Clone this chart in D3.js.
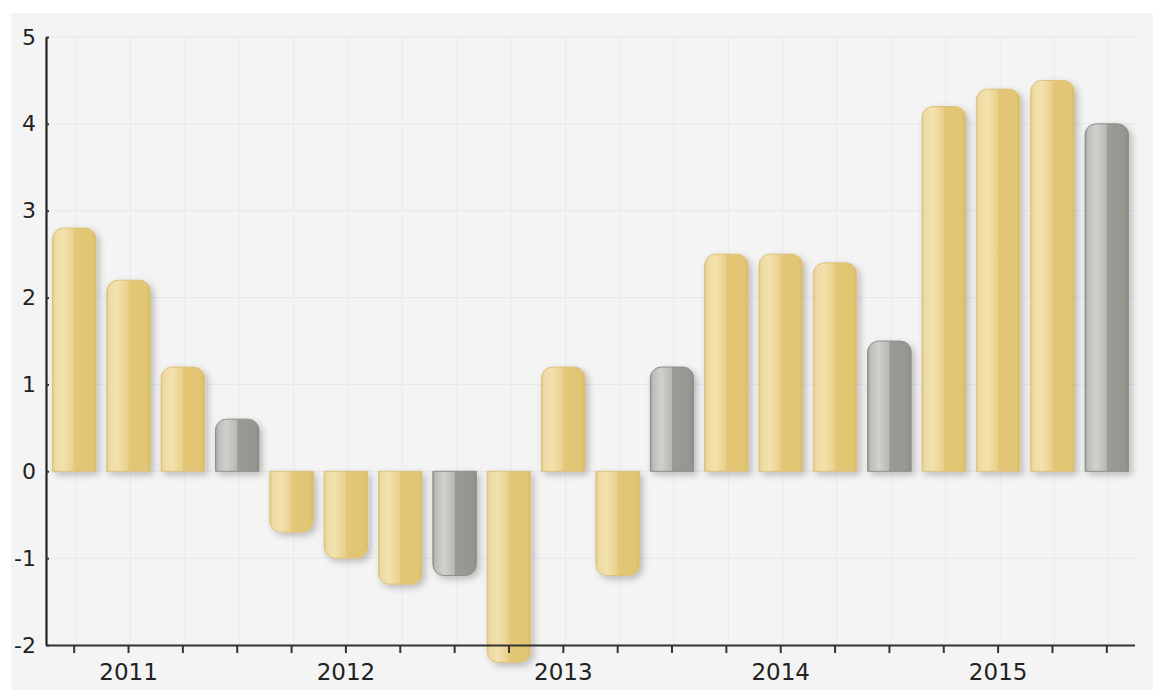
<!DOCTYPE html>
<html>
<head>
<meta charset="utf-8">
<script src="https://cdn.jsdelivr.net/npm/d3@7"></script>
<style>
  html, body { margin: 0; padding: 0; background: #ffffff; }
  svg { display: block; }
  text { font-family: "DejaVu Sans", Verdana, sans-serif; fill: #222; }
</style>
</head>
<body>
<svg id="chart" width="1159" height="698"></svg>
<script>
// Quarterly values, 2011–2015
const quarters = [
  "2011 Q1", "2011 Q2", "2011 Q3", "2011 Q4",
  "2012 Q1", "2012 Q2", "2012 Q3", "2012 Q4",
  "2013 Q1", "2013 Q2", "2013 Q3", "2013 Q4",
  "2014 Q1", "2014 Q2", "2014 Q3", "2014 Q4",
  "2015 Q1", "2015 Q2", "2015 Q3", "2015 Q4"
];
const values = [
  2.8, 2.2, 1.2, 0.6,
  -0.7, -1.0, -1.3, -1.2,
  -2.2, 1.2, -1.2, 1.2,
  2.5, 2.5, 2.4, 1.5,
  4.2, 4.4, 4.5, 4.0
];
// Fourth quarter of each year is shown in gray
const fourthQuarter = [
  false, false, false, true,
  false, false, false, true,
  false, false, false, true,
  false, false, false, true,
  false, false, false, true
];
// Year labels sit under the second quarter of each year
const xTickLabels = [
  "", "2011", "", "",
  "", "2012", "", "",
  "", "2013", "", "",
  "", "2014", "", "",
  "", "2015", "", ""
];
const yTicks = [-2, -1, 0, 1, 2, 3, 4, 5];

const svg = d3.select("#chart");
const plot = { left: 46, right: 1135, top: 37, bottom: 645 };

// panel background
svg.append("rect")
  .attr("x", 11).attr("y", 13)
  .attr("width", 1142).attr("height", 677)
  .attr("fill", "#f4f4f4");

const x = d3.scaleBand()
  .domain(quarters)
  .range([plot.left + 1, plot.right - 1])
  .paddingInner(0.2)
  .paddingOuter(0.1);

const y = d3.scaleLinear()
  .domain([-2, 5])
  .range([plot.bottom, plot.top]);

const defs = svg.append("defs");

function barGradient(id, stops) {
  const g = defs.append("linearGradient")
    .attr("id", id)
    .attr("x1", "0%").attr("x2", "100%")
    .attr("y1", "0%").attr("y2", "0%");
  stops.forEach(([o, c]) => g.append("stop").attr("offset", o).attr("stop-color", c));
}
barGradient("goldFill", [
  ["0%", "#e0c883"], ["6%", "#eedaa3"], ["25%", "#f3e2ae"],
  ["49%", "#e9d08b"], ["51%", "#e3c776"], ["92%", "#e2c572"], ["100%", "#d6ba6a"]
]);
barGradient("grayFill", [
  ["0%", "#9a9a97"], ["6%", "#bcbcb9"], ["25%", "#d0d0cd"],
  ["49%", "#b8b8b4"], ["51%", "#9b9b96"], ["92%", "#969691"], ["100%", "#8b8b86"]
]);

const shadow = defs.append("filter")
  .attr("id", "barShadow")
  .attr("x", "-30%").attr("y", "-30%")
  .attr("width", "160%").attr("height", "160%");
shadow.append("feDropShadow")
  .attr("dx", 3).attr("dy", 3)
  .attr("stdDeviation", 3.5)
  .attr("flood-color", "#000")
  .attr("flood-opacity", 0.24);

// grid lines
const grid = svg.append("g").attr("class", "grid");
grid.selectAll("line.h")
  .data(yTicks)
  .join("line")
  .attr("class", "h")
  .attr("x1", plot.left).attr("x2", plot.right)
  .attr("y1", d => y(d)).attr("y2", d => y(d))
  .attr("stroke", "#e6e8ec").attr("stroke-width", 1);
grid.selectAll("line.v")
  .data(quarters)
  .join("line")
  .attr("class", "v")
  .attr("x1", d => x(d) + x.bandwidth() / 2 + 2)
  .attr("x2", d => x(d) + x.bandwidth() / 2 + 2)
  .attr("y1", plot.top).attr("y2", plot.bottom)
  .attr("stroke", "#e9ebef").attr("stroke-width", 1);

// bar outline: rounded at the end away from zero
function barPath(d, i) {
  const x0 = x(quarters[i]);
  const w = x.bandwidth();
  const y0 = y(0);
  const y1 = y(d);
  const r = Math.min(11, w / 2, Math.abs(y1 - y0));
  if (d >= 0) {
    return `M${x0},${y0} L${x0},${y1 + r} A${r},${r} 0 0 1 ${x0 + r},${y1}
            L${x0 + w - r},${y1} A${r},${r} 0 0 1 ${x0 + w},${y1 + r}
            L${x0 + w},${y0} Z`;
  }
  return `M${x0},${y0} L${x0},${y1 - r} A${r},${r} 0 0 0 ${x0 + r},${y1}
          L${x0 + w - r},${y1} A${r},${r} 0 0 0 ${x0 + w},${y1 - r}
          L${x0 + w},${y0} Z`;
}

svg.append("g")
  .attr("class", "bars")
  .attr("filter", "url(#barShadow)")
  .selectAll("path")
  .data(values)
  .join("path")
  .attr("d", barPath)
  .attr("fill", (d, i) => fourthQuarter[i] ? "url(#grayFill)" : "url(#goldFill)")
  .attr("stroke", (d, i) => fourthQuarter[i] ? "#8d8d89" : "#dcc27c")
  .attr("stroke-width", 1);

// axes
const xAxis = d3.axisBottom(x)
  .tickSizeInner(8)
  .tickSizeOuter(0)
  .tickPadding(11)
  .tickFormat((d, i) => xTickLabels[i]);

const gx = svg.append("g")
  .attr("transform", `translate(0,${plot.bottom})`)
  .call(xAxis);
gx.select(".domain")
  .attr("d", `M${plot.left},0.5H${plot.right}`)
  .attr("stroke", "#333").attr("stroke-width", 2.2);
gx.selectAll(".tick line").attr("stroke", "#333").attr("stroke-width", 2);
gx.selectAll(".tick text")
  .style("font-family", "'DejaVu Sans', Verdana, sans-serif")
  .style("font-size", "23px")
  .attr("fill", "#222");

const yAxis = d3.axisLeft(y)
  .tickValues(yTicks)
  .tickSizeInner(-3)
  .tickSizeOuter(0)
  .tickPadding(10)
  .tickFormat(d => String(d));

const gy = svg.append("g")
  .attr("transform", `translate(${plot.left},0)`)
  .call(yAxis);
gy.select(".domain")
  .attr("stroke", "#222").attr("stroke-width", 2.2);
gy.selectAll(".tick line").attr("stroke", "#333").attr("stroke-width", 2);
gy.selectAll(".tick text")
  .style("font-family", "'DejaVu Sans', Verdana, sans-serif")
  .style("font-size", "22px")
  .attr("fill", "#222");
</script>
</body>
</html>
